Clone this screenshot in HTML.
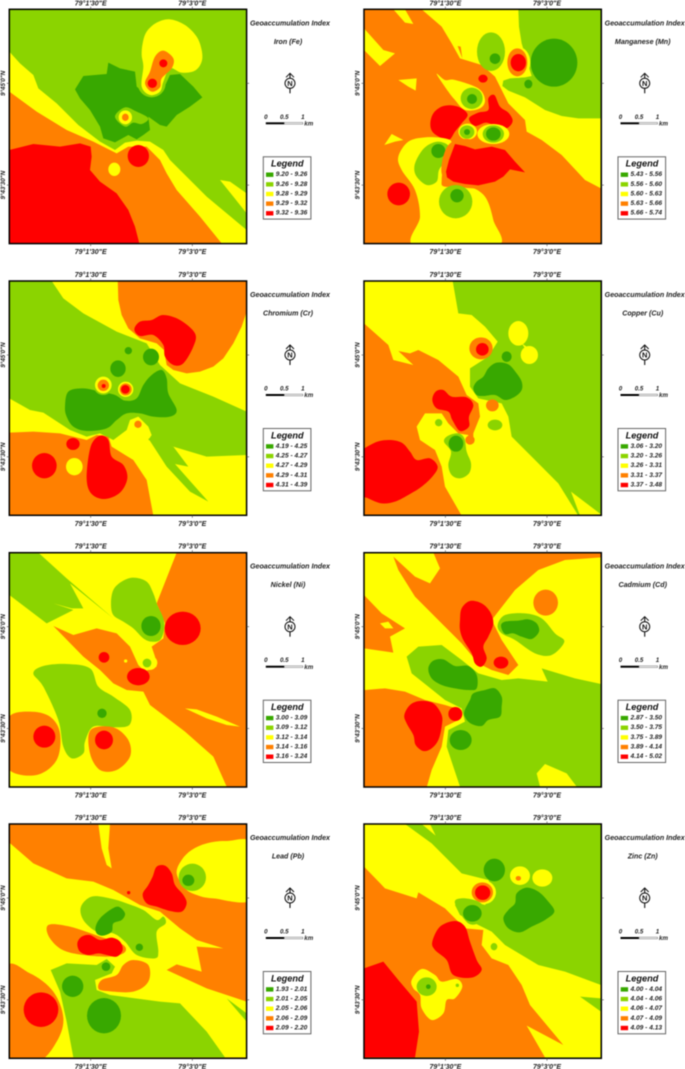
<!DOCTYPE html>
<html>
<head>
<meta charset="utf-8">
<title>Geoaccumulation Index Maps</title>
<style>
html,body{margin:0;padding:0;background:#fff;width:685px;height:1069px;overflow:hidden}
svg{display:block;filter:blur(0.6px)}
text{font-family:"Liberation Sans",sans-serif;font-weight:bold;font-style:italic;fill:#222}
</style>
</head>
<body>
<svg id="root" xmlns="http://www.w3.org/2000/svg" width="685" height="1069" viewBox="0 0 685 1069"></svg>
<script>
const metals = ['Iron (Fe)','Manganese (Mn)','Chromium (Cr)','Copper (Cu)','Nickel (Ni)','Cadmium (Cd)','Lead (Pb)','Zinc (Zn)'];
const legendRanges = [
 ['9.20 - 9.26','9.26 - 9.28','9.28 - 9.29','9.29 - 9.32','9.32 - 9.36'],
 ['5.43 - 5.56','5.56 - 5.60','5.60 - 5.63','5.63 - 5.66','5.66 - 5.74'],
 ['4.19 - 4.25','4.25 - 4.27','4.27 - 4.29','4.29 - 4.31','4.31 - 4.39'],
 ['3.06 - 3.20','3.20 - 3.26','3.26 - 3.31','3.31 - 3.37','3.37 - 3.48'],
 ['3.00 - 3.09','3.09 - 3.12','3.12 - 3.14','3.14 - 3.16','3.16 - 3.24'],
 ['2.87 - 3.50','3.50 - 3.75','3.75 - 3.89','3.89 - 4.14','4.14 - 5.02'],
 ['1.93 - 2.01','2.01 - 2.05','2.05 - 2.06','2.06 - 2.09','2.09 - 2.20'],
 ['4.00 - 4.04','4.04 - 4.06','4.06 - 4.07','4.07 - 4.09','4.09 - 4.13']
];
const classColors = {D:'#38a800',L:'#8bd400',Y:'#ffff00',O:'#ff8000',R:'#ff0000'};
const classOrder = ['D','L','Y','O','R'];
const lonTicks = ['79°1\'30"E','79°3\'0"E'];
const latTicks = ['9°45\'0"N','9°43\'30"N'];
const frameLefts = [9.3,364];
const frameTops = [9.3,281,552.7,824];
const zoomOriginsX = [0,345];
const zoomOriginsY = [0,270,540,805];
const backgrounds = ['L','O','L','L','Y','L','O','L'];

/* Region outlines: p = sharp polygon, s = smooth blob, e = ellipse; traced geography in 3x crop coordinates */
const panelRegions = [
[
 ['p','Y','28,155 60,190 100,225 115,265 170,310 235,375 300,425 345,450 375,428 410,422 450,425 490,450 510,480 540,510 620,590 740,690 740,730 28,730'],
 ['p','O','28,275 110,335 200,390 280,425 350,460 385,440 440,440 480,480 500,520 530,570 600,650 665,730 28,730'],
 ['p','R','28,450 100,432 180,440 240,430 272,440 275,470 270,510 300,545 350,580 385,630 405,680 418,730 28,730'],
 ['e','R',415,468,32,33],
 ['e','Y',343,508,18,20],
 ['p','Y','660,540 690,545 740,580 740,640 700,590'],
 ['p','D','225,268 250,228 320,222 325,188 360,205 405,215 410,260 440,285 490,268 510,225 540,222 580,260 607,292 570,320 530,345 500,380 480,375 445,350 450,390 430,405 410,418 385,405 345,427 310,415 300,380 270,330 240,295'],
 ['s','L','345,350 375,322 410,335 445,355 425,372 400,368 375,380'],
 ['e','Y',376,352,20,21],
 ['e','O',376,352,10,11],
 ['e','L',455,250,42,42],
 ['s','Y','428,130 440,95 470,68 510,58 555,75 590,110 605,150 605,185 585,212 545,218 510,205 490,245 480,275 450,285 425,260 430,200 425,165'],
 ['s','O','465,170 490,152 520,175 515,205 485,235 480,262 455,275 435,250 450,215'],
 ['e','R',490,190,12,12],
 ['e','R',457,250,14,14]
],
[
 ['p','Y','230,28 290,80 320,130 345,175 410,195 450,230 490,310 540,360 545,395 590,420 650,465 720,540 768,565 768,28'],
 ['p','O','338,138 347,140 352,175'],
 ['p','Y','145,28 180,28 205,72 180,68'],
 ['p','Y','57,85 115,150 150,160 105,198 57,150'],
 ['p','L','520,28 768,28 768,355 700,355 650,348 600,330 540,292 490,272 472,258 475,242 495,235 540,232 560,228 545,180 530,130 522,80'],
 ['e','D',627,188,70,72],
 ['e','D',550,252,12,13],
 ['e','Y',518,187,38,47],
 ['e','O',517,187,30,42],
 ['e','R',520,188,23,26],
 ['e','L',438,155,42,58],
 ['e','D',450,176,16,16],
 ['e','R',414,236,14,12],
 ['p','Y','160,240 215,235 212,272 190,260'],
 ['s','Y','275,222 300,240 330,240 400,265 420,300 405,325 360,330 330,300 310,275'],
 ['e','L',380,295,33,32],
 ['e','D',381,297,15,15],
 ['s','R','256,370 265,340 290,320 320,316 350,325 368,345 350,370 330,395 312,420 285,412 262,395'],
 ['s','R','372,355 400,338 430,330 430,295 448,285 465,320 490,338 503,362 490,382 465,385 425,368 390,378'],
 ['e','Y',368,395,28,24],
 ['e','L',366,396,22,20],
 ['e','D',366,396,9,9],
 ['e','Y',445,402,48,30],
 ['e','L',445,402,32,26],
 ['e','D',445,402,22,20],
 ['p','Y','118,435 140,402 175,420 150,425'],
 ['s','Y','160,470 190,425 240,412 300,415 320,430 300,480 290,540 300,560 370,560 420,590 445,660 455,740 210,740 225,650 210,570 170,510'],
 ['s','L','208,500 222,465 245,438 280,425 312,440 302,480 282,510 275,545 245,555 215,530'],
 ['e','D',280,453,21,21],
 ['s','O','290,520 315,430 400,430 430,550 340,560'],
 ['p','R','303,515 312,480 330,432 360,438 390,448 440,440 480,450 510,485 540,517 495,508 475,530 450,545 400,556 360,552 325,545 306,532'],
 ['e','L',332,605,50,50],
 ['e','D',336,587,20,20],
 ['e','R',161,582,34,34]
],
[
 ['p','Y','155,33 740,33 740,425 640,380 540,340 480,285 440,220 350,185 250,130 190,85'],
 ['p','O','353,25 745,25 745,110 725,170 700,220 670,265 640,290 600,305 560,310 520,300 500,285 492,240 470,220 420,205 385,175 365,135 355,90'],
 ['p','Y','685,270 740,250 740,258'],
 ['s','R','403,178 420,155 455,150 490,135 540,150 585,190 580,230 550,280 520,285 495,260 490,225 460,195 420,198'],
 ['e','D',385,242,11,11],
 ['e','D',453,261,24,25],
 ['e','D',354,296,23,25],
 ['s','D','195,410 205,365 250,355 300,365 345,375 375,392 410,385 430,345 455,315 485,300 500,325 505,370 530,420 510,440 460,440 420,430 380,430 350,450 320,475 260,483 220,470 200,440'],
 ['e','L',310,345,30,30],
 ['e','L',377,358,27,30],
 ['e','Y',310,345,25,25],
 ['e','O',310,346,17,17],
 ['e','R',311,348,6,6],
 ['e','Y',377,358,23,23],
 ['e','O',377,358,18,18],
 ['e','R',376,358,13,13],
 ['p','Y','28,385 90,420 130,428 210,480 260,500 300,490 340,510 380,480 390,450 415,440 445,470 455,495 445,510 520,530 620,560 740,555 740,737 28,737'],
 ['p','L','445,505 520,530 565,590 525,582 625,695 570,665 500,590'],
 ['p','O','28,488 100,485 180,490 260,510 290,495 325,500 335,530 400,570 440,630 460,737 28,737'],
 ['e','R',133,587,37,38],
 ['e','R',219,522,20,18],
 ['e','Y',223,590,25,26],
 ['s','R','272,530 300,497 325,510 335,560 370,585 382,625 360,668 315,687 275,672 260,625'],
 ['e','O',414,463,11,11]
],
[
 ['p','Y','57,33 323,33 340,130 380,135 420,170 458,215 430,260 375,295 375,350 400,385 470,400 490,440 500,500 560,560 640,640 700,737 57,737'],
 ['p','Y','678,665 768,733 705,737'],
 ['p','O','57,160 130,225 145,270 205,285 160,243 195,250 220,240 280,270 340,320 365,375 400,400 405,440 385,490 385,520 365,520 370,495 340,490 310,460 290,430 240,430 215,470 225,510 270,540 290,590 300,650 350,737 57,737'],
 ['s','R','40,560 85,520 130,510 170,518 195,545 215,570 255,565 278,590 262,620 230,650 195,672 150,695 110,700 70,685 40,665'],
 ['e','O',408,235,35,33],
 ['e','R',412,238,19,19],
 ['e','Y',520,190,30,37],
 ['e','Y',553,255,26,27],
 ['p','Y','530,220 545,230 540,235'],
 ['e','D',485,260,15,16],
 ['s','D','385,355 395,335 415,320 430,295 455,278 490,283 515,310 530,335 530,360 510,380 480,390 450,375 415,378 395,375'],
 ['e','O',442,406,19,18],
 ['e','L',450,465,22,16],
 ['e','L',281,458,11,11],
 ['s','R','262,390 272,365 295,360 320,380 365,382 385,405 372,440 372,470 345,483 322,450 310,425 275,415'],
 ['s','L','297,515 310,497 340,490 358,505 365,545 378,580 372,610 345,625 320,615 310,585 318,545'],
 ['e','D',333,521,22,24],
 ['e','O',375,510,14,14]
],
[
 ['p','O','530,38 740,38 740,740 680,740 640,650 555,575 450,495 430,455 380,450 340,430 300,390 250,350 160,258 220,285 290,265 350,280 390,320 415,375 425,385 440,392 470,380 465,350 455,320 490,295 495,250 470,190'],
 ['e','Y',448,368,24,22],
 ['e','L',441,369,13,13],
 ['e','Y',377,363,5,5],
 ['e','R',548,265,54,50],
 ['e','R',312,352,16,16],
 ['e','R',415,410,34,26],
 ['p','L','28,38 115,38 200,115 340,235 210,130 250,205 215,205 160,190 220,210 140,250 28,165'],
 ['s','L','333,190 340,150 365,125 400,113 440,125 460,160 472,195 490,235 492,270 480,300 455,305 430,295 400,265 370,245 340,225'],
 ['e','D',453,258,29,30],
 ['s','L','100,400 130,378 200,372 270,385 295,440 340,470 390,510 388,555 340,562 280,560 255,605 250,640 215,655 190,620 175,540 130,440'],
 ['e','D',306,520,14,14],
 ['s','O','28,530 90,515 150,530 180,580 170,660 110,705 28,690 15,610'],
 ['e','R',133,590,33,33],
 ['s','O','272,570 340,562 385,600 390,650 350,690 300,690 270,640'],
 ['e','R',312,600,27,28],
 ['p','Y','555,505 590,508 650,530 720,560 680,555 620,535']
],
[
 ['p','Y','57,38 768,38 768,432 690,415 590,385 608,425 520,415 470,420 400,400 350,360 290,315 220,320 185,350 200,400 250,440 300,480 350,505 360,545 310,570 305,620 345,740 57,740'],
 ['p','O','145,50 210,110 255,130 285,85 265,38 768,38 768,52 660,60 580,90 510,150 440,240 470,300 520,375 490,405 440,390 400,370 350,310 290,250 210,170 160,90'],
 ['p','O','57,165 110,220 180,265 135,290 145,338 57,325'],
 ['p','Y','105,250 130,245 145,265 120,265'],
 ['p','O','40,452 120,445 180,455 240,480 300,495 350,510 340,540 300,560 290,620 260,690 240,760 40,760'],
 ['e','O',602,188,37,39],
 ['s','L','458,255 480,225 540,220 590,235 630,280 658,305 620,345 570,340 510,300 470,280'],
 ['s','D','468,258 480,245 520,242 550,238 575,250 582,275 560,297 530,290 505,280 480,282'],
 ['s','R','345,240 350,205 375,183 410,190 435,215 445,250 430,290 415,320 425,355 410,380 390,370 380,340 355,300 345,270'],
 ['e','R',468,368,22,18],
 ['s','D','250,385 265,362 295,358 330,378 370,378 395,405 395,445 370,450 330,445 290,435 260,415'],
 ['s','D','358,515 375,480 385,460 420,450 450,445 470,470 470,500 465,530 430,540 410,558 380,552 362,535'],
 ['s','R','178,525 195,495 225,483 265,490 290,525 290,560 280,600 260,625 235,633 212,615 205,585 185,550'],
 ['e','R',331,522,21,21],
 ['e','D',347,600,33,30],
 ['p','Y','575,700 600,672 665,700 695,740 585,740']
],
[
 ['p','Y','28,113 100,175 200,220 280,230 340,255 420,300 480,320 540,370 590,405 670,430 590,425 605,500 530,478 500,495 620,550 740,590 740,757 28,757'],
 ['s','O','15,495 90,505 160,560 190,640 170,710 115,770 15,770'],
 ['s','Y','530,205 545,165 575,135 620,115 680,108 760,118 760,280 640,280 590,270 555,250'],
 ['e','L',577,217,41,41],
 ['e','D',565,226,18,17],
 ['p','Y','295,57 330,57 325,130 335,190 320,180 305,130'],
 ['s','R','428,268 445,240 458,215 470,185 495,182 515,205 525,240 550,270 560,295 545,320 510,318 470,305 440,295'],
 ['e','R',386,263,5,5],
 ['s','L','243,305 275,275 330,280 380,295 430,315 470,345 490,335 497,355 470,380 475,440 465,460 410,450 375,410 340,385 290,380 250,345'],
 ['s','D','287,365 300,340 330,315 355,305 375,325 365,345 340,355 335,380 310,392 290,385'],
 ['e','D',418,427,11,11],
 ['s','O','145,360 210,365 300,395 370,420 370,445 310,455 200,440 150,400'],
 ['s','R','232,415 245,395 270,390 300,405 335,398 360,410 368,435 350,455 320,450 295,445 265,450 240,440'],
 ['s','O','370,480 400,465 445,480 445,530 400,560 320,558 295,550 305,525 350,510'],
 ['p','L','152,495 200,475 290,480 320,462 345,485 335,505 285,525 290,555 330,570 480,590 540,595 620,680 675,757 220,757 200,650 180,560'],
 ['e','D',318,485,13,13],
 ['e','D',218,544,32,32],
 ['e','D',312,632,51,53],
 ['e','R',123,614,52,52],
 ['p','L','680,580 740,625 740,650']
],
[
 ['p','Y','57,57 180,57 260,115 350,205 430,225 450,265 420,300 350,280 330,300 345,330 400,360 440,380 480,420 580,480 660,500 768,540 768,757 57,757'],
 ['p','Y','230,57 255,57 272,92'],
 ['p','L','705,575 768,580 768,620'],
 ['p','O','57,185 120,250 215,280 220,262 300,310 360,370 415,375 410,420 440,460 490,480 530,540 555,600 655,720 545,662 600,757 57,757'],
 ['p','R','57,490 115,470 160,525 215,590 222,680 210,757 57,757'],
 ['s','R','262,410 285,365 330,348 360,365 375,410 395,465 410,495 380,518 325,510 305,465 270,435'],
 ['s','Y','200,525 230,492 270,510 290,530 335,522 352,545 330,580 305,585 295,625 260,645 230,610 225,570 205,550'],
 ['e','L',245,545,30,28],
 ['e','D',250,545,7,7],
 ['e','L',337,541,5,5],
 ['e','D',448,195,32,34],
 ['e','Y',525,212,30,28],
 ['e','O',520,220,8,7],
 ['e','Y',592,219,30,26],
 ['s','D','475,340 490,315 510,295 515,265 545,248 580,260 610,290 628,320 600,345 560,365 525,382 490,370'],
 ['e','Y',415,262,38,36],
 ['e','O',412,262,32,30],
 ['e','R',413,263,23,22],
 ['s','L','330,295 350,280 400,290 425,320 410,350 370,355'],
 ['e','D',382,325,28,25],
 ['e','L',447,425,10,11]
]
];

const NS = 'http://www.w3.org/2000/svg';
const root = document.getElementById('root');
const FW = 237.3, FH = 234.3;

function mk(tag, attrs, parent, txt){
  const el = document.createElementNS(NS, tag);
  for (const k in attrs) el.setAttribute(k, attrs[k]);
  if (txt !== undefined) el.textContent = txt;
  parent.appendChild(el);
  return el;
}
function pts(str){ return str.trim().split(/\s+/).map(s => s.split(',').map(Number)); }
function smooth(str){
  const p = pts(str), n = p.length;
  let d = 'M' + p[0][0] + ' ' + p[0][1];
  for (let i = 0; i < n; i++){
    const a = p[(i-1+n)%n], b = p[i], c = p[(i+1)%n], e = p[(i+2)%n];
    d += ' C' + (b[0]+(c[0]-a[0])/6).toFixed(1) + ' ' + (b[1]+(c[1]-a[1])/6).toFixed(1) + ' ' +
         (c[0]-(e[0]-b[0])/6).toFixed(1) + ' ' + (c[1]-(e[1]-b[1])/6).toFixed(1) + ' ' + c[0] + ' ' + c[1];
  }
  return d + 'Z';
}

metals.forEach((metal, i) => {
  const col = i % 2, row = Math.floor(i / 2);
  const fx = frameLefts[col], fy = frameTops[row];
  const slug = metal.split(' ')[0].toLowerCase();

  const panel = mk('g', {}, root);
  
  

  const clip = mk('clipPath', {id:'clip' + i}, panel);
  mk('rect', {x:fx, y:fy, width:FW, height:FH}, clip);

  const map = mk('g', {'clip-path':'url(#clip' + i + ')'}, panel);
  
  

  const bg = mk('rect', {x:fx, y:fy, width:FW, height:FH, fill:classColors[backgrounds[i]]}, map);
  
  

  const regions = mk('g', {transform:'translate(' + zoomOriginsX[col] + ' ' + zoomOriginsY[row] + ') scale(0.33333)'}, map);
  panelRegions[i].forEach(r => {
    let el;
    if (r[0] === 'e') el = mk('ellipse', {cx:r[2], cy:r[3], rx:r[4], ry:r[5], fill:classColors[r[1]]}, regions);
    else if (r[0] === 's') el = mk('path', {d:smooth(r[2]), fill:classColors[r[1]]}, regions);
    else el = mk('polygon', {points:r[2], fill:classColors[r[1]]}, regions);
    
    
  });

  const frame = mk('rect', {x:fx, y:fy, width:FW, height:FH, fill:'none', stroke:'#000', 'stroke-width':1.5}, panel);
  
  

  lonTicks.forEach((label, k) => {
    const tx = fx + 81.4 + k * 101.6;
    [-1, 1].forEach(side => {
      const y0 = side < 0 ? fy - 2.5 : fy + FH;
      const tick = mk('line', {x1:tx, x2:tx, y1:y0, y2:y0 + 2.5, stroke:'#444', 'stroke-width':0.6}, panel);
      
      
      const t = mk('text', {x:tx, y: side < 0 ? fy - 4 : fy + FH + 10.5, 'font-size':7, 'text-anchor':'middle'}, panel, label);
      
      
    });
  });
  latTicks.forEach((label, k) => {
    const ty = fy + 74 + k * 101.8;
    const t1 = mk('line', {x1:fx - 2.5, x2:fx, y1:ty, y2:ty, stroke:'#444', 'stroke-width':0.6}, panel);
    
    
    const t2 = mk('line', {x1:fx + FW, x2:fx + FW + 2.5, y1:ty, y2:ty, stroke:'#444', 'stroke-width':0.6}, panel);
    
    
    const lx = fx - 4.5;
    const t = mk('text', {transform:'translate(' + lx + ' ' + ty + ') rotate(-90)', 'font-size':6.2, 'text-anchor':'middle'}, panel, label);
    
    
  });

  const cx = fx + 280.7;
  const title = mk('text', {x:cx, y:fy + 16, 'font-size':7.1, 'text-anchor':'middle'}, panel, 'Geoaccumulation Index');
  
  
  const sub = mk('text', {x:cx - 2, y:fy + 34.5, 'font-size':7.1, 'text-anchor':'middle'}, panel, metal);
  
  

  const north = mk('g', {transform:'translate(' + (cx) + ' ' + (fy + 74) + ')'}, panel);
  
  
  mk('line', {x1:0, x2:0, y1:-10, y2:10, stroke:'#111', 'stroke-width':1.1}, north);
  mk('polyline', {points:'-4,-6 0,-10 4,-6', fill:'none', stroke:'#111', 'stroke-width':1}, north);
  mk('circle', {cx:0, cy:0, r:5, fill:'#fff', stroke:'#111', 'stroke-width':1}, north);
  mk('text', {x:0, y:2.7, 'font-size':7.5, 'text-anchor':'middle', style:'font-style:normal;fill:#111'}, north, 'N');

  const sx = fx + 256.5, sy = fy + 113;
  const scale = mk('g', {}, panel);
  
  
  mk('rect', {x:sx, y:sy, width:18.5, height:2, fill:'#000'}, scale);
  mk('rect', {x:sx + 18.5, y:sy + 0.2, width:18.5, height:1.6, fill:'#fff', stroke:'#666', 'stroke-width':0.5}, scale);
  mk('text', {x:sx, y:sy - 3.5, 'font-size':6.2, 'text-anchor':'middle'}, scale, '0');
  mk('text', {x:sx + 18.5, y:sy - 3.5, 'font-size':6.2, 'text-anchor':'middle'}, scale, '0.5');
  mk('text', {x:sx + 37, y:sy - 3.5, 'font-size':6.2, 'text-anchor':'middle'}, scale, '1');
  mk('text', {x:sx + 38.5, y:sy + 3.2, 'font-size':6.2}, scale, 'km');

  const lx = fx + 254, ly = fy + 147.5;
  const legend = mk('g', {}, panel);
  
  
  mk('rect', {x:lx, y:ly, width:47.6, height:62.3, fill:'#fff', stroke:'#666', 'stroke-width':1}, legend);
  mk('text', {x:lx + 24, y:ly + 9.8, 'font-size':9.2, 'text-anchor':'middle', style:'fill:#111'}, legend, 'Legend');
  legendRanges[i].forEach((range, k) => {
    const ry = ly + 18.5 + k * 9.65;
    const sw = mk('rect', {x:lx + 2.7, y:ry - 2.8, width:7.4, height:4.4, fill:classColors[classOrder[k]]}, legend);
    
    
    const lab = mk('text', {x:lx + 12.5, y:ry + 0.8, 'font-size':6.6}, legend, range);
    
    
  });
});
</script>
</body>
</html>
